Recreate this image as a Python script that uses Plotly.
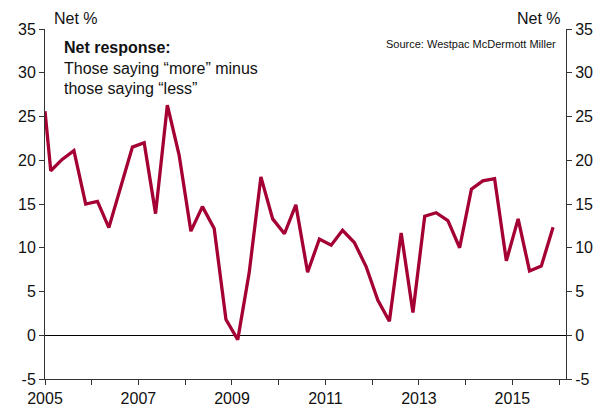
import plotly.graph_objects as go

# quarterly survey dates (Feb, May, Aug, Nov) and the net response, %
dates = ["2005-01-01"] + [f"{y}-{m}-15" for y in range(2005, 2016) for m in ("02", "05", "08", "11")]
net = [25.6,
       18.8, 20.1, 21.1, 15.0,
       15.3, 12.3, 16.8, 21.5,
       22.0, 13.9, 26.3, 20.6,
       11.9, 14.7, 12.2, 1.8,
       -0.5, 7.1, 18.1, 13.3,
       11.6, 14.9, 7.2, 11.0,
       10.3, 12.0, 10.6, 7.85,
       4.0, 1.6, 11.7, 2.6,
       13.6, 14.0, 13.1, 10.0,
       16.7, 17.65, 17.9, 8.5,
       13.3, 7.35, 7.9, 12.35]

yticks = [-5, 0, 5, 10, 15, 20, 25, 30, 35]
ylabels = ["-5", "0", "5", "10", "15", "20", "25", "30", "35"]

W, H = 599, 410
L, R, T, B = 45, 33, 29, 31
FONT = "Liberation Sans, Arial, sans-serif"
AXIS = "#333333"

fig = go.Figure()
fig.add_trace(go.Scatter(x=dates, y=net, mode="lines",
                         line=dict(color="#A50034", width=3.3),
                         hoverinfo="skip", showlegend=False))
# invisible trace to activate the right axis
fig.add_trace(go.Scatter(x=dates, y=net, yaxis="y2", mode="lines",
                         line=dict(width=0), hoverinfo="skip", showlegend=False))

yax = dict(range=[-5, 35], tickvals=yticks, ticktext=ylabels,
           ticks="outside", ticklen=5, tickcolor=AXIS,
           showline=True, linecolor=AXIS, linewidth=1,
           showgrid=False, automargin=False, tickfont=dict(size=16))

fig.update_layout(
    width=W, height=H,
    margin=dict(l=L, r=R, t=T, b=B),
    paper_bgcolor="white", plot_bgcolor="white",
    font=dict(family=FONT, size=16, color="#111111"),
    xaxis=dict(
        type="date", range=["2005-01-01", "2016-02-24"],
        tick0="2005-01-01", dtick="M24", tickformat="%Y",
        ticks="outside", ticklen=5, tickcolor=AXIS,
        minor=dict(dtick="M12", ticks="outside", ticklen=5, tickcolor=AXIS),
        showline=True, linecolor=AXIS, linewidth=1,
        showgrid=False, zeroline=False, automargin=False, tickfont=dict(size=16),
    ),
    yaxis=dict(yax, zeroline=True, zerolinecolor="black", zerolinewidth=1),
    yaxis2=dict(yax, overlaying="y", side="right", zeroline=False),
)

notes = [
    dict(x=52, y=18, text="Net %", xanchor="left", size=16),
    dict(x=563, y=18, text="Net %", xanchor="right", size=16),
    dict(x=62, y=48, text="<b>Net response:</b>", xanchor="left", size=16),
    dict(x=62, y=68, text="Those saying \u201cmore\u201d minus", xanchor="left", size=16),
    dict(x=62, y=88, text="those saying \u201cless\u201d", xanchor="left", size=16),
    dict(x=558, y=44, text="Source: Westpac McDermott Miller", xanchor="right", size=11),
]
for n in notes:
    # pixel position -> plot-area paper coordinates
    fig.add_annotation(
        x=(n["x"] - L) / (W - L - R), y=(H - B - n["y"]) / (H - T - B),
        xref="paper", yref="paper",
        text=n["text"], showarrow=False, xanchor=n["xanchor"], yanchor="middle",
        font=dict(size=n["size"], family=FONT, color="#111111"),
    )

fig.write_html("out.html", config={"displayModeBar": False},
               post_script="document.body.style.margin='0';document.body.style.overflow='hidden';")
